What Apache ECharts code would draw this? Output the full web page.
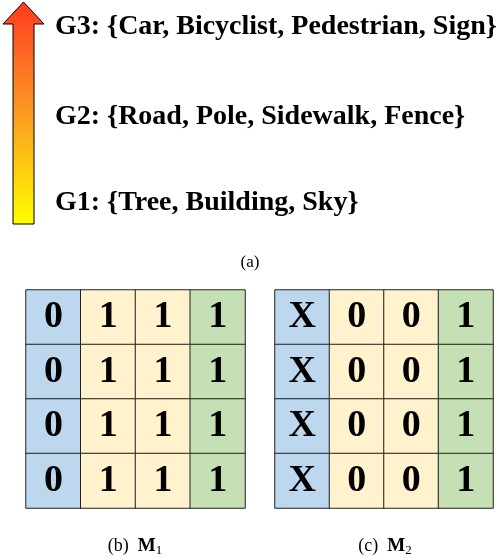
<!DOCTYPE html>
<html>
<head>
<meta charset="utf-8">
<script src="https://cdn.jsdelivr.net/npm/echarts@6/dist/echarts.min.js"></script>
<style>html,body{margin:0;padding:0;background:#fff}#main{width:500px;height:558px}</style>
</head>
<body>
<div id="main"></div>
<script>
var groups = ['G1: {Tree, Building, Sky}', 'G2: {Road, Pole, Sidewalk, Fence}', 'G3: {Car, Bicyclist, Pedestrian, Sign}'];
var cols = ['c0', 'c1', 'c2', 'c3'];
var rows = ['r0', 'r1', 'r2', 'r3'];
var colColors = ['#bdd7ee', '#fff2cc', '#fff2cc', '#c5e0b4'];
var m1Row = ['0', '1', '1', '1'];
var m2Row = ['X', '0', '0', '1'];
var captions = [['(b)', '1'], ['(c)', '2']];

var myChart = echarts.init(document.getElementById('main'));
var font = '"Liberation Serif", "DejaVu Serif", serif';

function cells(rowVals) {
    var out = [];
    rows.forEach(function (r, j) {
        cols.forEach(function (c, i) {
            out.push({
                value: [i, j, i],
                label: {formatter: rowVals[i]},
                itemStyle: {color: colColors[i]}
            });
        });
    });
    return out;
}

function axes(idx, isY) {
    return {
        type: 'category', gridIndex: idx, data: isY ? rows : cols, inverse: isY,
        axisLine: {show: false}, axisTick: {show: false}, axisLabel: {show: false}, splitLine: {show: false}
    };
}

var series = [m1Row, m2Row].map(function (rv, k) {
    return {
        type: 'heatmap', xAxisIndex: k, yAxisIndex: k,
        data: cells(rv),
        itemStyle: {borderColor: '#222', borderWidth: 1},
        label: {show: true, fontFamily: font, fontWeight: 'bold', fontSize: 38, color: '#000'},
        emphasis: {disabled: true}
    };
});

var graphics = [
    {
        type: 'polygon',
        shape: {points: [[13, 224], [13, 24], [3, 24], [23.5, 2], [44, 24], [34, 24], [34, 224]]},
        style: {
            stroke: '#000', lineWidth: 1,
            fill: new echarts.graphic.LinearGradient(0, 0, 0, 1, [
                {offset: 0, color: '#ff3a22'},
                {offset: 0.5, color: '#fb9a22'},
                {offset: 1, color: '#ffff00'}
            ])
        }
    },
    {type: 'text', position: [250, 263], style: {text: '(a)', font: '17px ' + font, fill: '#000', textAlign: 'center', textVerticalAlign: 'middle'}}
];
[203, 117, 27].forEach(function (y, i) {
    graphics.push({type: 'text', position: [55, y], style: {text: groups[i], font: 'bold 28px ' + font, fill: '#000', textVerticalAlign: 'middle'}});
});
[135, 385].forEach(function (x, i) {
    graphics.push({type: 'text', position: [x, 546], style: {
        text: captions[i][0] + '  {m|M}{s|' + captions[i][1] + '}',
        font: '18px ' + font, fill: '#000', textAlign: 'center', textVerticalAlign: 'middle',
        rich: {
            m: {fontFamily: font, fontWeight: 'bold', fontSize: 19},
            s: {fontFamily: font, fontSize: 13, padding: [10, 0, 0, 0]}
        }
    }});
});

myChart.setOption({
    animation: false,
    grid: [
        {left: 26, top: 290, width: 219, height: 218},
        {left: 275, top: 290, width: 218, height: 218}
    ],
    xAxis: [axes(0, false), axes(1, false)],
    yAxis: [axes(0, true), axes(1, true)],
    series: series,
    graphic: graphics
});
</script>
</body>
</html>
